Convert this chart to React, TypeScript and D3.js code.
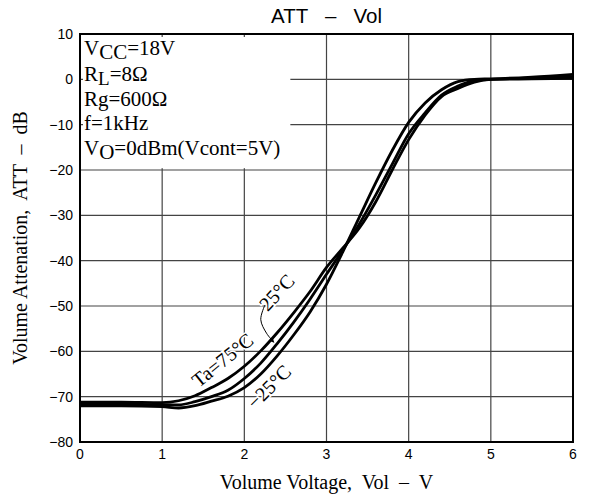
import * as d3 from "d3";

const VOLTS = [0, 0.5, 1, 1.2, 1.4, 1.6, 1.8, 2, 2.2, 2.4, 2.6, 2.8, 3, 3.2, 3.4, 3.6, 3.8, 4, 4.2, 4.4, 4.6, 4.8, 5, 5.5, 6];
const ATT_75 = [-71.2, -71.2, -71.3, -70.9, -69.8, -68.0, -66.0, -63.3, -59.9, -55.9, -51.5, -46.8, -41.5, -37.2, -32.8, -27.0, -20.0, -13.3, -7.9, -3.8, -2.0, -0.6, 0, 0.1, 0.2];
const ATT_25 = [-71.6, -71.6, -71.8, -71.8, -71.1, -70.0, -68.6, -66.0, -62.6, -58.3, -53.6, -48.5, -43.0, -37.6, -31.9, -25.5, -18.7, -12.0, -7.4, -3.5, -1.5, -0.3, 0, 0.3, 0.6];
const ATT_M25 = [-72.0, -72.0, -72.2, -72.5, -72.0, -71.0, -69.9, -68.0, -65.0, -61.0, -56.4, -51.3, -45.2, -38.0, -30.4, -22.8, -15.7, -9.5, -5.2, -2.3, -0.5, 0, 0.1, 0.5, 1.1];

const X_TICKS = [0, 1, 2, 3, 4, 5, 6];
const Y_TICKS = [10, 0, -10, -20, -30, -40, -50, -60, -70, -80];

// 25°C leader (V, dB)
const LEADER: [number, number][] = [[2.25, -49.8], [2.2, -53.0], [2.27, -56.0], [2.36, -58.0]];

const W = 591;
const H = 495;
const M = { left: 80, right: 573, top: 34, bottom: 442 };

const SERIF = "'Liberation Serif', 'Times New Roman', serif";
const SANS = "'Liberation Sans', Arial, sans-serif";

const fmt = (v: number) => (v < 0 ? "\u2212" + Math.abs(v) : String(v));

export default function App() {
  const x = d3.scaleLinear().domain([0, 6]).range([M.left, M.right]);
  const y = d3.scaleLinear().domain([10, -80]).range([M.top, M.bottom]);

  const line = d3
    .line<number>()
    .x((_, i) => x(VOLTS[i]))
    .y((d) => y(d))
    .curve(d3.curveMonotoneX);

  const leader = d3
    .line<[number, number]>()
    .x((d) => x(d[0]))
    .y((d) => y(d[1]))
    .curve(d3.curveCatmullRom);

  const series = [ATT_75, ATT_25, ATT_M25];

  const label = (v: number, db: number, rot: number, text: React.ReactNode) => (
    <text
      transform={`translate(${x(v)},${y(db)}) rotate(${rot})`}
      textAnchor="middle"
      dy="0.35em"
      fontFamily={SERIF}
      fontSize={20}
      fill="#000"
      stroke="#fff"
      strokeWidth={3}
      paintOrder="stroke"
    >
      {text}
    </text>
  );

  return (
    <svg width={W} height={H} style={{ position: "absolute", left: 0, top: 0, background: "#fff" }}>
      <defs>
        <marker id="arr" viewBox="0 0 10 10" refX="9" refY="5" markerWidth="5" markerHeight="5" orient="auto">
          <path d="M0,0 L10,5 L0,10 z" fill="#000" />
        </marker>
      </defs>
      <rect width={W} height={H} fill="#fff" />

      {/* grid */}
      {X_TICKS.slice(1, -1).map((t) => (
        <line key={"gx" + t} x1={x(t)} x2={x(t)} y1={M.top} y2={M.bottom} stroke="#444" strokeWidth={1.2} />
      ))}
      {Y_TICKS.slice(1, -1).map((t) => (
        <line key={"gy" + t} x1={M.left} x2={M.right} y1={y(t)} y2={y(t)} stroke="#444" strokeWidth={1.2} />
      ))}

      {/* box behind conditions */}
      <rect x={x(0) + 3} y={y(10) + 3} width={x(2.56) - x(0) - 3} height={y(-19.6) - y(10) - 3} fill="#fff" />

      {/* frame */}
      <rect x={M.left} y={M.top} width={M.right - M.left} height={M.bottom - M.top} fill="none" stroke="#000" strokeWidth={2} />

      {/* curves */}
      {series.map((s, i) => (
        <path key={i} d={line(s) ?? ""} fill="none" stroke="#000" strokeWidth={2.8} />
      ))}

      {/* tick labels */}
      {Y_TICKS.map((t) => (
        <text key={"yt" + t} x={M.left - 7} y={y(t)} dy="0.36em" textAnchor="end" fontFamily={SANS} fontSize={14}>
          {fmt(t)}
        </text>
      ))}
      {X_TICKS.map((t) => (
        <text key={"xt" + t} x={x(t)} y={M.bottom + 17} textAnchor="middle" fontFamily={SANS} fontSize={14}>
          {t}
        </text>
      ))}

      {/* title */}
      <text x={(M.left + M.right) / 2} y={23} textAnchor="middle" fontFamily={SANS} fontSize={20.5} style={{ whiteSpace: "pre" }}>
        {"ATT   \u2013   Vol"}
      </text>

      {/* axis titles */}
      <text x={(M.left + M.right) / 2} y={489} textAnchor="middle" fontFamily={SERIF} fontSize={20} style={{ whiteSpace: "pre" }}>
        {"Volume Voltage,  Vol  \u2013  V"}
      </text>
      <text
        transform={`translate(27,${(M.top + M.bottom) / 2}) rotate(-90)`}
        textAnchor="middle"
        fontFamily={SERIF}
        fontSize={20}
        style={{ whiteSpace: "pre" }}
      >
        {"Volume Attenation,  ATT  \u2013  dB"}
      </text>

      {/* conditions */}
      <g fontFamily={SERIF} fontSize={21}>
        <text x={84} y={55}>
          V<tspan dy={4}>CC</tspan>
          <tspan dy={-4}>=18V</tspan>
        </text>
        <text x={84} y={81}>
          R<tspan dy={4} fontSize={19}>L</tspan>
          <tspan dy={-4}>=8Ω</tspan>
        </text>
        <text x={84} y={105.5}>Rg=600Ω</text>
        <text x={84} y={130}>f=1kHz</text>
        <text x={84} y={155}>
          V<tspan dy={4}>O</tspan>
          <tspan dy={-4}>=0dBm(Vcont=5V)</tspan>
        </text>
      </g>

      {/* curve labels */}
      {label(1.734, -61.9, -39, "Ta=75°C")}
      {label(2.394, -47.0, -47, "25°C")}
      {label(2.3, -67.8, -45, "\u221225°C")}
      <path d={leader(LEADER) ?? ""} fill="none" stroke="#000" strokeWidth={1} markerEnd="url(#arr)" />
    </svg>
  );
}
